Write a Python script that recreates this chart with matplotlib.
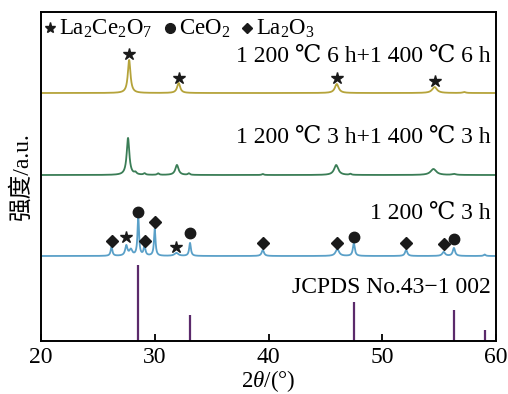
import numpy as np
import matplotlib.pyplot as plt

plt.rcParams['font.family'] = ['Liberation Serif', 'DejaVu Serif', 'Noto Sans CJK SC']
plt.rcParams['mathtext.fontset'] = 'custom'
plt.rcParams['mathtext.rm'] = 'Liberation Serif'
plt.rcParams['mathtext.it'] = 'Liberation Serif:italic'

# peak lists: position (2theta), height, width
peaks_6h = [(27.75, 33, 0.14), (32.1, 10, 0.16), (46.0, 9, 0.2), (54.6, 6, 0.25), (57.2, 1, 0.15)]
peaks_3h = [(27.65, 37, 0.14), (28.3, 2, 0.12), (29.1, 1.5, 0.1), (30.3, 1.5, 0.1),
            (31.95, 10, 0.17), (33.0, 1.5, 0.1), (39.5, 1, 0.1), (45.95, 10, 0.22),
            (47.2, 1, 0.1), (54.5, 6, 0.3), (56.3, 1, 0.2)]
peaks_1200 = [(26.2, 9, 0.09), (27.5, 10, 0.12), (27.9, 6, 0.15), (28.55, 39, 0.08),
              (29.1, 10, 0.09), (30.0, 27, 0.08), (31.9, 3, 0.2), (33.1, 13, 0.09),
              (39.5, 6, 0.12), (46.05, 7, 0.18), (47.5, 13, 0.1), (52.1, 6, 0.12),
              (55.4, 4, 0.15), (56.3, 8, 0.12), (59.0, 1.5, 0.1)]
base_6h, base_3h, base_1200 = 248, 166, 85

# JCPDS No.43-1002 reference lines
ref_pos = [28.55, 33.1, 47.5, 56.35, 59.05]
ref_int = [76, 26, 39, 31, 11]

# phase markers on the curves: (2theta, y)
stars_6h = [(27.75, 287), (32.1, 263), (46.0, 263), (54.6, 260)]
stars_1200 = [(27.5, 104), (31.9, 94)]
circles_1200 = [(28.55, 129), (33.1, 108), (47.5, 104), (56.3, 102)]
diamonds_1200 = [(26.2, 100), (29.1, 100), (30.0, 119), (39.5, 98), (46.05, 98),
                 (52.1, 98), (55.4, 97)]

def profile(x, peaks, base):
    y = np.full_like(x, base, dtype=float)
    for c, h, w in peaks:
        y += h / (1 + ((x - c) / w) ** 2)
    return y

x = np.linspace(20, 60, 4000)

fig = plt.figure(figsize=(5.08, 3.94), dpi=100)
ax = fig.add_axes([0.0807, 0.1345, 0.8957, 0.835])

ax.plot(x, profile(x, peaks_6h, base_6h), color='#b5a33a', lw=1.3)
ax.plot(x, profile(x, peaks_3h, base_3h), color='#3a7d56', lw=1.3)
ax.plot(x, profile(x, peaks_1200, base_1200), color='#5aa0c8', lw=1.3)
ax.vlines(ref_pos, 0, ref_int, color='#5b2a6b', lw=1.6)

mk = dict(color='#1a1a1a', ls='none')
ax.plot(*zip(*stars_6h), marker='*', ms=9, **mk)
ax.plot(*zip(*stars_1200), marker='*', ms=9, **mk)
ax.plot(*zip(*circles_1200), marker='o', ms=7.5, **mk)
ax.plot(*zip(*diamonds_1200), marker='D', ms=6, **mk)

# phase legend
fs = 17
ax.plot(20.75, 313, marker='*', ms=8, **mk)
ax.text(21.6, 312, r'La$_2$Ce$_2$O$_7$', fontsize=16.5, va='center')
ax.plot(31.35, 313, marker='o', ms=7, **mk)
ax.text(32.15, 312, r'CeO$_2$', fontsize=16.5, va='center')
ax.plot(38.1, 313, marker='D', ms=5.5, **mk)
ax.text(38.9, 312, r'La$_2$O$_3$', fontsize=16.5, va='center')

ax.text(59.5, 285, '1 200 ℃ 6 h+1 400 ℃ 6 h', fontsize=fs, ha='right', va='center')
ax.text(59.5, 204, '1 200 ℃ 3 h+1 400 ℃ 3 h', fontsize=fs, ha='right', va='center')
ax.text(59.5, 128, '1 200 ℃ 3 h', fontsize=fs, ha='right', va='center')
ax.text(59.5, 54, 'JCPDS No.43\u22121 002', fontsize=fs, ha='right', va='center')

ax.set_xlim(20, 60)
ax.set_ylim(0, 329)
ax.set_xticks([20, 30, 40, 50, 60])
ax.tick_params(axis='x', direction='in', length=5, width=1.3, labelsize=fs, pad=4)
ax.set_yticks([])
for s in ax.spines.values():
    s.set_linewidth(1.4)
ax.set_xlabel(r'2$\theta$/(°)', fontsize=16.5, labelpad=0)
ax.set_ylabel('强度/a.u.', fontsize=fs)
ax.yaxis.set_label_coords(-0.018, 0.5)

fig.savefig('out.png', dpi=100)
